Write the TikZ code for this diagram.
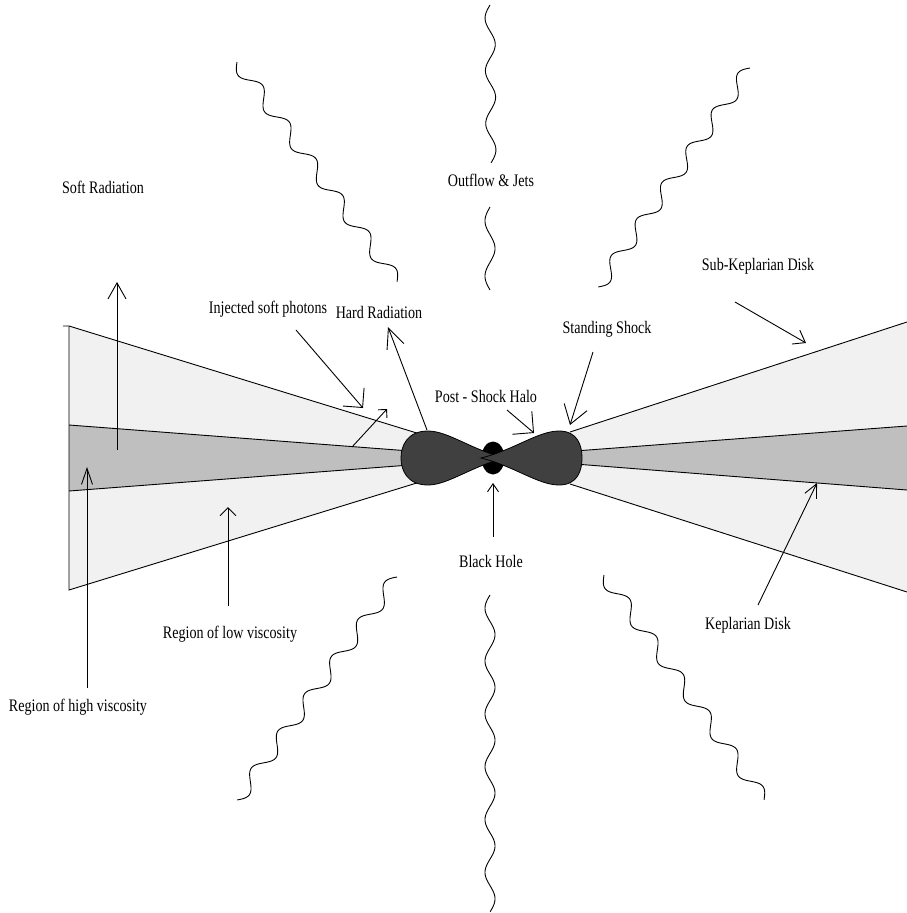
\documentclass[tikz,border=0pt]{standalone}
\usepackage{fontspec}
\setmainfont{Liberation Serif}[FakeStretch=0.8]
\usetikzlibrary{arrows.meta}

\definecolor{diskouter}{HTML}{F1F1F1}
\definecolor{diskinner}{HTML}{BFBFBF}
\definecolor{halo}{HTML}{404040}

% wavy emission line from (#1,#2) to (#3,#4) with #5 cycles and amplitude #6
\newcommand\wavyline[6]{%
  \draw[wave] plot[domain=0:1, samples=240]
    ({#1+\x*(#3-#1) - (#4-#2)/veclen(#3-#1,#4-#2)*#6*sin(360*#5*\x)},
     {#2+\x*(#4-#2) + (#3-#1)/veclen(#3-#1,#4-#2)*#6*sin(360*#5*\x)});}

\begin{document}
\begin{tikzpicture}[x=1pt, y=-1pt,
  edge/.style={line width=0.9pt, black},
  wave/.style={line width=0.9pt, black},
  lbl/.style={font=\fontsize{17.6}{21}\selectfont, inner sep=0pt},
]
\useasboundingbox (0,0) rectangle (907,913);

% ---- accretion disk: outer (sub-Keplerian) flow ----
\fill[diskouter] (69,326) -- (420,434) -- (420,482) -- (69,590) -- cycle;
\fill[diskouter] (907,322) -- (570,432) -- (570,484) -- (907,592) -- cycle;
% ---- Keplerian disk in the equatorial plane ----
\fill[diskinner] (69,425) -- (410,451) -- (410,465) -- (69,491) -- cycle;
\fill[diskinner] (907,426) -- (575,451) -- (575,464) -- (907,490) -- cycle;

\draw[edge] (63,326) -- (69,326) -- (420,434);
\draw[edge] (69,326) -- (69,590) -- (420,482);
\draw[edge] (69,425) -- (410,451);
\draw[edge] (69,491) -- (410,465);
\draw[edge] (907,322) -- (570,432);
\draw[edge] (907,592) -- (570,484);
\draw[edge] (907,426) -- (575,451);
\draw[edge] (907,490) -- (575,464);

% ---- black hole ----
\fill[black] (493,458) ellipse [x radius=11.5, y radius=16.5];

% ---- post-shock halo (two lobes) ----
\filldraw[fill=halo, draw=black, line width=0.8pt]
  (505,458) .. controls (472,450) and (448,431) .. (428,431)
  .. controls (407,431) and (401,446) .. (401,458)
  .. controls (401,470) and (407,485) .. (428,485)
  .. controls (448,485) and (472,466) .. (505,458) -- cycle;
\filldraw[fill=halo, draw=black, line width=0.8pt]
  (481,458) .. controls (514,450) and (538,431) .. (559,431)
  .. controls (578,431) and (582,446) .. (582,458)
  .. controls (582,470) and (578,485) .. (559,485)
  .. controls (538,485) and (514,466) .. (481,458) -- cycle;

% ---- outflows and jets ----
\wavyline{490}{5}{491}{163}{3}{5}
\wavyline{490}{207}{490}{290}{1.5}{5}
\wavyline{490}{595}{490}{912}{6}{5}
\wavyline{237}{62}{397}{282}{6}{7}
\wavyline{750}{68}{598}{287}{6}{7}
\wavyline{397}{577}{237}{800}{6}{7}
\wavyline{604}{575}{764}{800}{6}{7}

% ---- labels ----
\node[lbl] (jets)   at (491,180) {Outflow \& Jets};
\node[lbl] (softr)  at (103,187) {Soft Radiation};
\node[lbl] (subkep) at (758,266) {Sub-Keplarian Disk};
\node[lbl] (inj)    at (268,309) {Injected soft photons};
\node[lbl] (hard)   at (379,312) {Hard Radiation};
\node[lbl] (stand)  at (607,329) {Standing Shock};
\node[lbl] (post)   at (486,396) {Post - Shock Halo};
\node[lbl] (bh)     at (491,561) {Black Hole};
\node[lbl] (kep)    at (748,625) {Keplarian Disk};
\node[lbl] (lowv)   at (230,634) {Region of low viscosity};
\node[lbl] (highv)  at (78,707)  {Region of high viscosity};

% ---- pointer ends ----
\coordinate (softT) at (117,450);  \coordinate (softH) at (117,282);
\coordinate (highT) at (87,688);   \coordinate (highH) at (87,467);
\coordinate (lowT)  at (228,606);  \coordinate (lowH)  at (228,507);
\coordinate (injT)  at (296,330);  \coordinate (injH)  at (363,408);
\coordinate (phT)   at (352,447);  \coordinate (phH)   at (387,409);
\coordinate (hardT) at (427,430);  \coordinate (hardH) at (388,327);
\coordinate (postT) at (507,410);  \coordinate (postH) at (534,433);
\coordinate (stT)   at (593,352);  \coordinate (stH)   at (570,425);
\coordinate (skT)   at (735,302);  \coordinate (skH)   at (806,343);
\coordinate (kT)    at (758,605);  \coordinate (kH)    at (817,483);
\coordinate (bhT)   at (493,537);  \coordinate (bhH)   at (493,483);

% ---- pointers ----
\draw[line width=0.9pt, -{Straight Barb[length=16, width=18]}] (softT) -- (softH);
\draw[line width=0.9pt, -{Straight Barb[length=16, width=11]}] (highT) -- (highH);
\draw[line width=0.9pt, -{Straight Barb[length=8, width=16]}]  (lowT)  -- (lowH);
\draw[line width=0.9pt, -{Straight Barb[length=14, width=28]}] (injT)  -- (injH);
\draw[line width=0.9pt, -{Straight Barb[length=6, width=12]}]  (phT)   -- (phH);
\draw[line width=0.9pt, -{Straight Barb[length=20, width=18]}] (hardT) -- (hardH);
\draw[line width=0.9pt, -{Straight Barb[length=15, width=30]}] (postT) -- (postH);
\draw[line width=0.9pt, -{Straight Barb[length=18, width=24]}] (stT)   -- (stH);
\draw[line width=0.9pt, -{Straight Barb[length=11, width=16]}] (skT)   -- (skH);
\draw[line width=0.9pt, -{Straight Barb[length=13.5, width=13]}] (kT)  -- (kH);
\draw[line width=0.9pt, -{Straight Barb[length=8, width=11]}]  (bhT)   -- (bhH);
\end{tikzpicture}
\end{document}
